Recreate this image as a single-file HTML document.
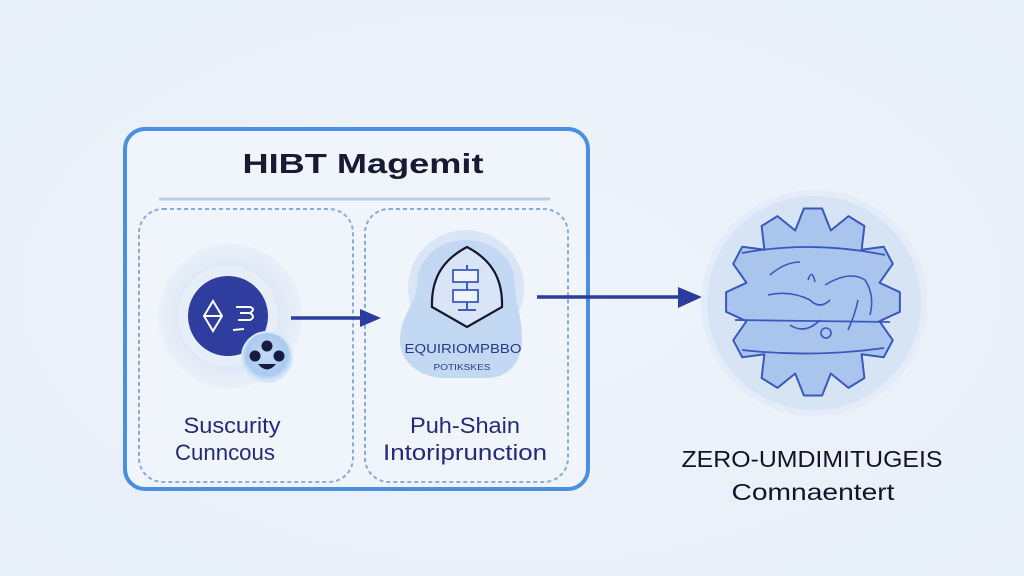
<!DOCTYPE html>
<html><head><meta charset="utf-8"><style>
html,body{margin:0;padding:0;background:#eaf1f9;}
svg{display:block;}
text{font-family:"Liberation Sans",sans-serif;}
</style></head><body>
<svg width="1024" height="576" viewBox="0 0 1024 576" xmlns="http://www.w3.org/2000/svg">
<defs>
<radialGradient id="bg" cx="50%" cy="50%" r="70%">
<stop offset="0" stop-color="#eef4fb"/><stop offset="1" stop-color="#e7eff8"/>
</radialGradient>
<radialGradient id="small" cx="50%" cy="45%" r="55%">
<stop offset="0" stop-color="#c4dcf6"/><stop offset="0.75" stop-color="#a9caf0"/><stop offset="1" stop-color="#e4effb"/>
</radialGradient>
<radialGradient id="halo" cx="50%" cy="50%" r="50%">
<stop offset="0.5" stop-color="#d8e5f4"/><stop offset="1" stop-color="#e9f0f9"/>
</radialGradient>
</defs>
<rect width="1024" height="576" fill="url(#bg)"/>

<!-- outer box -->
<rect x="125" y="129" width="463" height="360" rx="20" fill="#eff5fb" stroke="#4a8fe2" stroke-width="4"/>
<text x="363" y="173" font-size="28" font-weight="bold" fill="#161b33" text-anchor="middle" textLength="241" lengthAdjust="spacingAndGlyphs">HIBT Magemit</text>
<line x1="159" y1="199" x2="550" y2="199" stroke="#bccfe8" stroke-width="3"/>

<!-- dashed boxes -->
<rect x="139" y="209" width="214" height="273" rx="24" fill="none" stroke="#85abe0" stroke-width="2" stroke-dasharray="4 3"/>
<rect x="365" y="209" width="203" height="273" rx="24" fill="none" stroke="#85abe0" stroke-width="2" stroke-dasharray="4 3"/>

<!-- left icon -->
<circle cx="230" cy="316" r="72" fill="url(#halo)"/>
<circle cx="228" cy="316" r="50" fill="#e6eef8"/>
<circle cx="228" cy="316" r="40" fill="#2e3d9e"/>
<path d="M213 301 L222 316 L213 331 L204 316 Z M205 316 L221 316" fill="none" stroke="#fff" stroke-width="2"/>
<path d="M236 307 L250 307 Q256 309 250 313 L240 313 M250 313 Q256 317 250 320 L238 320 M233 330 L244 329" fill="none" stroke="#fff" stroke-width="2"/>
<circle cx="267" cy="357" r="25" fill="url(#small)" stroke="#d7e7f8" stroke-width="2"/>
<circle cx="267" cy="346" r="5.5" fill="#161b40"/>
<circle cx="255" cy="356" r="5.5" fill="#161b40"/>
<circle cx="279" cy="356" r="5.5" fill="#161b40"/>
<path d="M258 364 Q267 375 276 364 Z" fill="#161b40"/>

<!-- arrow 1 -->
<line x1="291" y1="318" x2="364" y2="318" stroke="#2b3c9e" stroke-width="3.5"/>
<polygon points="360,309 381,318 360,327" fill="#2b3c9e"/>

<!-- shield node -->
<circle cx="466" cy="288" r="58" fill="#dae6f5"/>
<path d="M466 240 C495 240 515 260 515 285 C515 302 522 315 522 340 C522 365 505 378 488 378 L444 378 C424 378 400 365 400 340 C400 315 417 302 417 285 C417 260 437 240 466 240 Z" fill="#c3d8f2"/>
<path d="M467 247 C488 258 503 275 502 307 L467 327 L432 307 C431 275 446 258 467 247 Z" fill="#d9e5f6" stroke="#14182e" stroke-width="2.2"/>
<line x1="467" y1="265" x2="467" y2="310" stroke="#3d5cc0" stroke-width="2"/>
<line x1="458" y1="310" x2="476" y2="310" stroke="#3d5cc0" stroke-width="2"/>
<rect x="453" y="270" width="25" height="12" fill="#eef3fb" stroke="#3d5cc0" stroke-width="1.8"/>
<rect x="453" y="290" width="25" height="12" fill="#eef3fb" stroke="#3d5cc0" stroke-width="1.8"/>
<text x="463" y="353" font-size="13" fill="#263a8a" text-anchor="middle" textLength="117" lengthAdjust="spacingAndGlyphs">EQUIRIOMPBBO</text>
<text x="462" y="370" font-size="8" fill="#263a8a" text-anchor="middle" textLength="57" lengthAdjust="spacingAndGlyphs">POTIKSKES</text>

<!-- labels -->
<text x="232" y="433" font-size="22" fill="#232a78" text-anchor="middle" textLength="97" lengthAdjust="spacingAndGlyphs">Suscurity</text>
<text x="225" y="460" font-size="22" fill="#232a78" text-anchor="middle" textLength="100" lengthAdjust="spacingAndGlyphs">Cunncous</text>
<text x="465" y="433" font-size="22" fill="#232a78" text-anchor="middle" textLength="110" lengthAdjust="spacingAndGlyphs">Puh-Shain</text>
<text x="465" y="460" font-size="22" fill="#232a78" text-anchor="middle" textLength="164" lengthAdjust="spacingAndGlyphs">Intoriprunction</text>

<!-- arrow 2 -->
<line x1="537" y1="297" x2="682" y2="297" stroke="#2b3c9e" stroke-width="3.5"/>
<polygon points="678,287 702,297 678,308" fill="#2b3c9e"/>

<!-- gear node -->
<circle cx="814" cy="303" r="110" fill="#d7e4f4" stroke="#e3ecf8" stroke-width="6"/>
<polygon points="803.9,208.5 822.1,208.5 830.8,230.5 848.5,216.1 864.4,226.0 861.6,249.7 883.7,246.7 892.8,263.8 879.5,282.8 899.9,292.2 899.9,311.8 879.5,321.2 892.8,340.2 883.7,357.3 861.6,354.3 864.4,378.0 848.5,387.9 830.8,373.5 822.1,395.5 803.9,395.5 795.2,373.5 777.5,387.9 761.6,378.0 764.4,354.3 742.3,357.3 733.2,340.2 746.5,321.2 726.1,311.8 726.1,292.2 746.5,282.8 733.2,263.8 742.3,246.7 764.4,249.7 761.6,226.0 777.5,216.1 795.2,230.5" fill="#a9c5ee" stroke="#3a57bd" stroke-width="2" stroke-linejoin="round"/>
<path d="M742 253 Q813 240 885 255 M735 320 L890 322 M742 350 Q813 358 884 348" fill="none" stroke="#3a57bd" stroke-width="1.8"/>
<path d="M770 275 Q785 262 800 262 M768 295 Q790 290 810 300 Q820 310 830 300 M825 285 Q850 270 865 280 Q875 295 870 315 M790 325 Q805 335 820 320 M848 330 Q855 315 858 300 M808 280 Q812 268 815 282" fill="none" stroke="#3a57bd" stroke-width="1.6"/>
<circle cx="826" cy="333" r="5" fill="none" stroke="#3a57bd" stroke-width="1.6"/>

<text x="812" y="467" font-size="23" fill="#111428" text-anchor="middle" textLength="261" lengthAdjust="spacingAndGlyphs">ZERO-UMDIMITUGEIS</text>
<text x="813" y="500" font-size="23" fill="#111428" text-anchor="middle" textLength="163" lengthAdjust="spacingAndGlyphs">Comnaentert</text>
</svg>
</body></html>
